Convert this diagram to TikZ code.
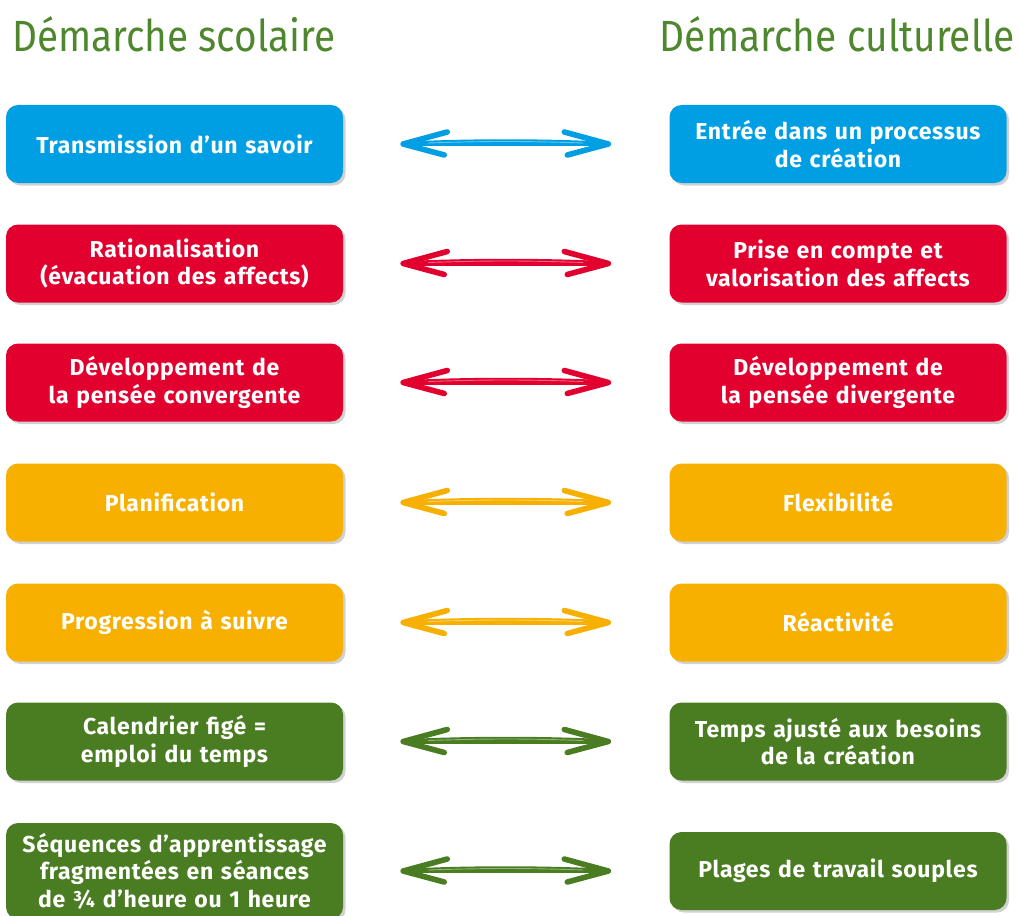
\documentclass[tikz,border=0pt]{standalone}
\usepackage{fontspec}
\usepackage{graphicx}
\setmainfont{Fira Sans}
\newfontfamily\titlefont{Fira Sans}
\newfontfamily\boxfont{Fira Sans}[LetterSpace=3]
\usetikzlibrary{shadows}
\definecolor{cblue}{RGB}{0,159,227}
\definecolor{cred}{RGB}{226,0,47}
\definecolor{corange}{RGB}{248,176,0}
\definecolor{cgreen}{RGB}{74,125,34}
\definecolor{ctitle}{RGB}{78,135,45}
\tikzset{
  box/.style={rounded corners=12pt, minimum width=337pt, minimum height=78pt,
    text width=335pt, align=center, inner sep=0pt, text=white,
    font=\boxfont\bfseries\fontsize{23}{27.5}\selectfont,
    drop shadow={shadow xshift=2.5pt, shadow yshift=-2.5pt, opacity=0.3, fill=black!60}},
  bluebox/.style={box, fill=cblue},
  redbox/.style={box, fill=cred},
  orangebox/.style={box, fill=corange},
  greenbox/.style={box, fill=cgreen},
  arrowline/.style={line width=4.2pt, line cap=round, line join=round},
  barb/.style={line width=5.6pt, line cap=round, line join=round},
  shine/.style={line width=0.9pt, draw=white, opacity=0.4},
  title/.style={text=ctitle, font=\titlefont\fontsize{48}{50}\selectfont, inner sep=0pt}
}
\newcommand{\biarrow}[3]{%
  \path ([xshift=60pt]#1.east) coordinate (#1a) ([xshift=-61pt]#2.west) coordinate (#2a);
  \draw[arrowline,#3] (#1a) .. controls +(60,-3.5) and +(-60,-3.5) .. (#2a);
  \draw[arrowline,#3] (#1a) -- (#2a);
  \draw[barb,#3] ([shift={(44,-12)}]#1a) -- (#1a) -- ([shift={(41,11)}]#1a);
  \draw[barb,#3] ([shift={(-44,-12)}]#2a) -- (#2a) -- ([shift={(-41,11)}]#2a);
  \draw[shine] ([shift={(25,-1)}]#1a) .. controls +(60,-2) and +(-60,-2) .. ([shift={(-25,-1)}]#2a);
}
\begin{document}
\begin{tikzpicture}[x=1pt,y=-1pt]
\useasboundingbox (0,0) rectangle (1019,915);
\node[title, anchor=base west] (T1) at (12,52) {\resizebox{323pt}{35pt}{Démarche scolaire}};
\node[title, anchor=base east] (T2) at (1015,52) {\resizebox{355pt}{35pt}{Démarche culturelle}};

\node[bluebox] (L1) at (174.5,144) {Transmission d’un savoir};
\node[bluebox] (R1) at (838,144) {Entrée dans un processus\\de création};
\node[redbox] (L2) at (174.5,263.5) {Rationalisation\\(évacuation des affects)};
\node[redbox] (R2) at (838,263.5) {Prise en compte et\\valorisation des affects};
\node[redbox] (L3) at (174.5,382.5) {Développement de\\la pensée convergente};
\node[redbox] (R3) at (838,382.5) {Développement de\\la pensée divergente};
\node[orangebox] (L4) at (174.5,502.5) {Planification};
\node[orangebox] (R4) at (838,502.5) {Flexibilité};
\node[orangebox] (L5) at (174.5,622.5) {Progression à suivre};
\node[orangebox] (R5) at (838,622.5) {Réactivité};
\node[greenbox] (L6) at (174.5,741.5) {Calendrier figé =\\emploi du temps};
\node[greenbox] (R6) at (838,741.5) {Temps ajusté aux besoins\\de la création};
\node[greenbox, minimum height=96pt] (L7) at (174.5,871) {Séquences d’apprentissage\\fragmentées en séances\\de ¾ d’heure ou 1 heure};
\node[greenbox] (R7) at (838,871) {Plages de travail souples};

\biarrow{L1}{R1}{cblue}
\biarrow{L2}{R2}{cred}
\biarrow{L3}{R3}{cred}
\biarrow{L4}{R4}{corange}
\biarrow{L5}{R5}{corange}
\biarrow{L6}{R6}{cgreen}
\biarrow{L7}{R7}{cgreen}
\end{tikzpicture}
\end{document}
